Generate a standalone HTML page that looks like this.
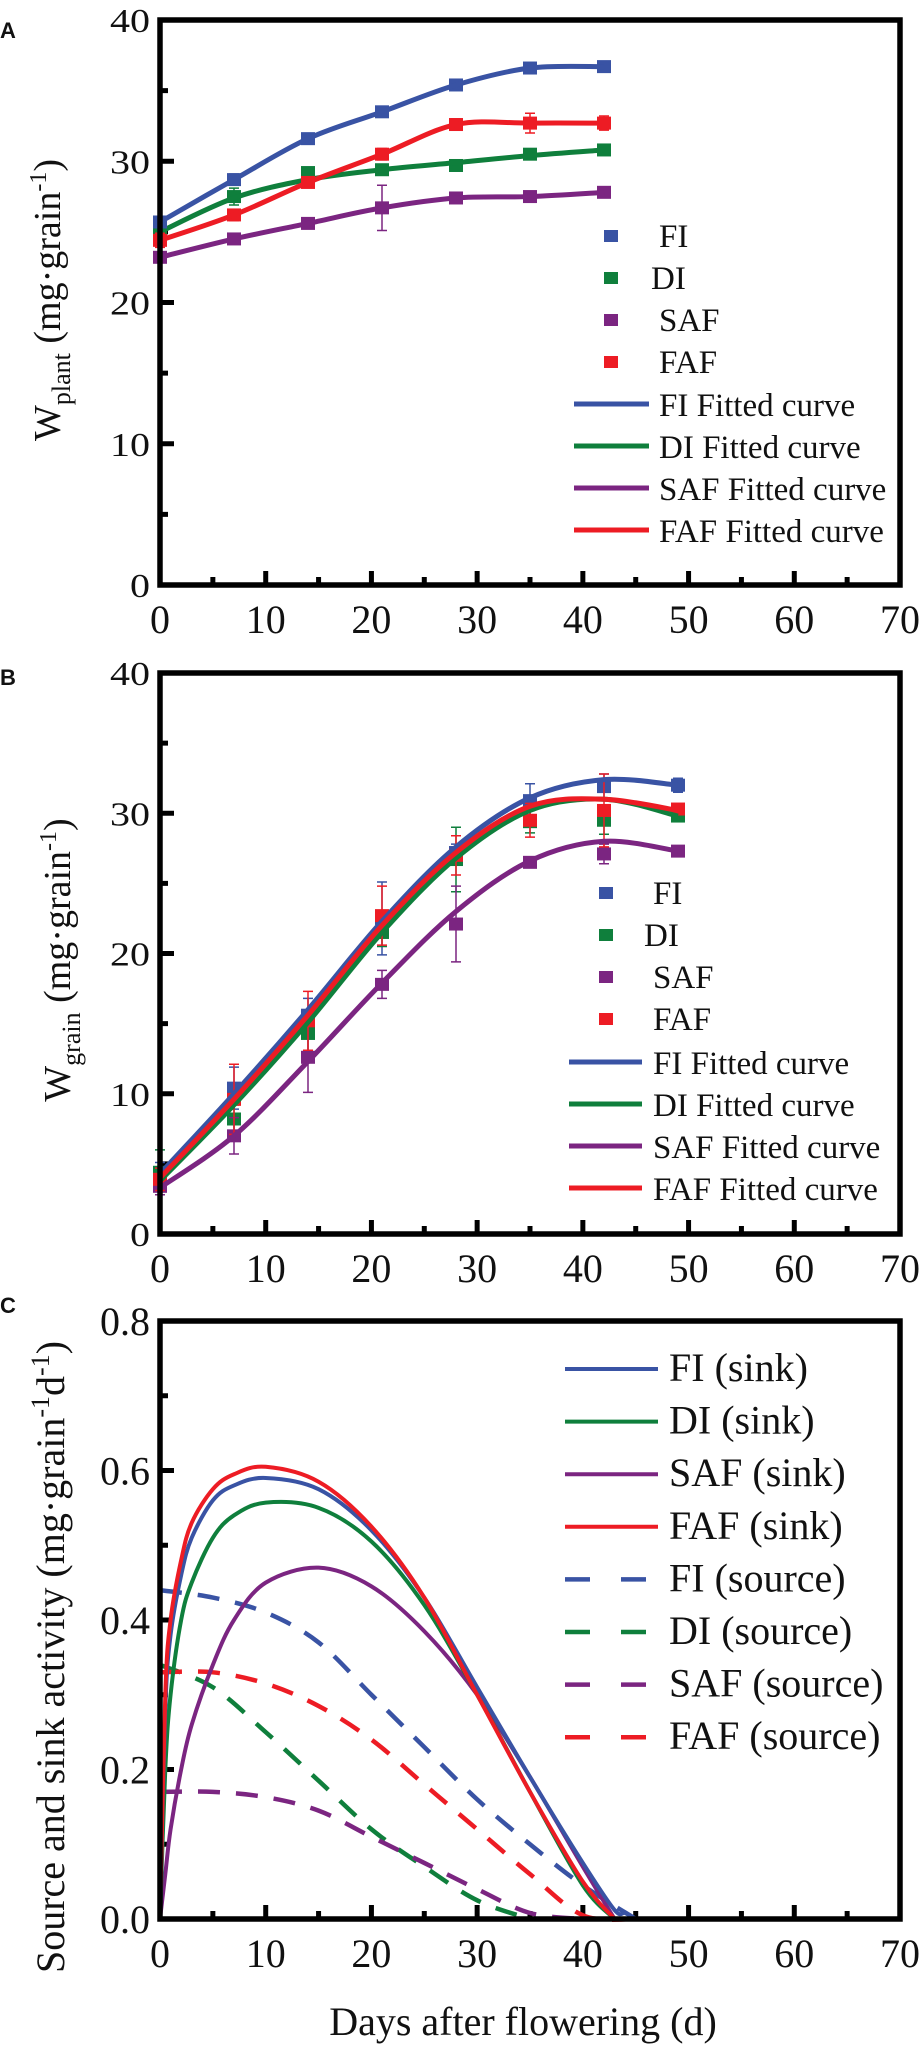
<!DOCTYPE html>
<html><head><meta charset="utf-8">
<style>
html,body{margin:0;padding:0;background:#fff;}
svg{display:block;}
text{font-family:"Liberation Serif",serif;fill:#111;}
.pl{font-family:"Liberation Sans",sans-serif;font-weight:bold;font-size:22px;}
</style></head>
<body>
<svg id="fig" width="924" height="2047" viewBox="0 0 924 2047" xmlns="http://www.w3.org/2000/svg">
<text class="pl" x="0" y="38">A</text>
<text class="pl" x="0" y="685">B</text>
<text class="pl" x="0" y="1313">C</text>
<text x="0" y="0" transform="translate(60,300) rotate(-90)" text-anchor="middle" font-size="38">W<tspan font-size="26" dy="10">plant</tspan><tspan dy="-10"> (mg·grain</tspan><tspan font-size="24" dy="-14">-1</tspan><tspan dy="14">)</tspan></text>
<text x="0" y="0" transform="translate(70,960) rotate(-90)" text-anchor="middle" font-size="38">W<tspan font-size="26" dy="10">grain</tspan><tspan dy="-10">  (mg·grain</tspan><tspan font-size="24" dy="-14">-1</tspan><tspan dy="14">)</tspan></text>
<text x="0" y="0" transform="translate(64,1657) rotate(-90)" text-anchor="middle" font-size="40">Source and sink activity (mg·grain<tspan font-size="26" dy="-15">-1</tspan><tspan dy="15">d</tspan><tspan font-size="26" dy="-15">-1</tspan><tspan dy="15">)</tspan></text>
<text x="523" y="2035" text-anchor="middle" font-size="40">Days after flowering (d)</text>
</svg>
<script>
// ---------- data ----------
const seriesNames = ["FI","DI","SAF","FAF"];
const colors = ["#3953a4","#0f7f3c","#7b2581","#ed1c24"];
const daysA = [0,7,14,21,28,35,42];
const plantFI = [25.7,28.7,31.6,33.5,35.4,36.6,36.7];
const plantDI = [25.0,27.5,29.2,29.4,29.7,30.5,30.8];
const plantSAF = [23.2,24.5,25.6,26.7,27.4,27.5,27.8];
const plantFAF = [24.4,26.2,28.5,30.5,32.6,32.7,32.7];
const plantErrFI = [0.3,0.4,0.3,0.3,0.3,0.3,0.3];
const plantErrDI = [0.3,0.6,0.3,0.3,0.3,0.3,0.3];
const plantErrSAF = [0.3,0.3,0.3,1.6,0.3,0.3,0.3];
const plantErrFAF = [0.5,0.4,0.3,0.4,0.4,0.7,0.5];
const plantFitDI = [25.0,27.4,28.7,29.4,29.9,30.4,30.8];

const daysB = [0,7,14,21,28,35,42,49];
const grainFI = [4.1,10.4,15.6,22.5,27.2,30.9,31.9,32.0];
const grainDI = [4.4,8.2,14.3,21.5,26.7,29.4,29.5,29.8];
const grainSAF = [3.4,7.0,12.6,17.8,22.1,26.5,27.1,27.3];
const grainFAF = [3.9,9.6,15.2,22.7,27.0,29.5,30.2,30.3];
const grainErrFI = [1.0,1.5,1.2,2.6,0.6,1.2,0.9,0.5];
const grainErrDI = [1.6,1.0,1.2,1.0,2.3,0.8,1.0,0.3];
const grainErrSAF = [0.6,1.3,2.5,1.0,2.7,0.3,0.7,0.3];
const grainErrFAF = [0.8,2.5,2.1,2.1,1.4,1.2,2.6,0.3];
const fitFI = [4.3,10.0,16.0,22.3,27.6,31.1,32.4,32.0];
const fitDI = [3.8,9.2,15.1,21.5,26.8,30.2,31.0,29.8];
const fitSAF = [3.3,7.0,12.3,17.9,23.0,26.6,28.0,27.3];
const fitFAF = [4.0,9.6,15.6,22.0,27.2,30.5,31.0,30.2];

const sinkDays = [0,0.5,1,2,3,5,7,10,15,20,25,30,35,40,43,44,45];
const sinkFI = [0,0.28,0.38,0.46,0.51,0.56,0.58,0.59,0.575,0.52,0.43,0.31,0.19,0.075,0.012,0.008,0];
const sinkDI = [0,0.20,0.30,0.40,0.45,0.51,0.54,0.557,0.55,0.505,0.42,0.30,0.17,0.045,0,0,0];
const sinkSAF = [0,0.06,0.12,0.20,0.26,0.34,0.40,0.45,0.47,0.445,0.385,0.30,0.19,0.07,0,0,0];
const sinkFAF = [0,0.30,0.40,0.48,0.53,0.575,0.595,0.605,0.585,0.525,0.43,0.30,0.17,0.05,0,0,0];
const srcDays = [0,5,10,15,20,25,30,35,40,45];
const srcFI = [0.44,0.43,0.41,0.37,0.30,0.23,0.16,0.10,0.045,0];
const srcDI = [0.34,0.31,0.25,0.185,0.12,0.07,0.025,0,0,0];
const srcSAF = [0.17,0.17,0.163,0.145,0.11,0.075,0.04,0.008,0,0];
const srcFAF = [0.33,0.33,0.315,0.285,0.24,0.18,0.12,0.06,0.005,0];
const xTicks = [0,10,20,30,40,50,60,70];
const yTicksAB = [0,10,20,30,40];
const yTicksC = ["0.0","0.2","0.4","0.6","0.8"];

// ---------- helpers ----------
const NS = "http://www.w3.org/2000/svg";
const svg = document.getElementById("fig");
function mk(tag, attrs, parent){
  const e = document.createElementNS(NS, tag);
  for (const k in attrs) e.setAttribute(k, attrs[k]);
  (parent||svg).appendChild(e);
  return e;
}
function spline(pts){
  if (pts.length<2) return "";
  let d = "M"+pts[0][0]+","+pts[0][1];
  for (let i=0;i<pts.length-1;i++){
    const p0=pts[i-1]||pts[i], p1=pts[i], p2=pts[i+1], p3=pts[i+2]||p2;
    const c1=[p1[0]+(p2[0]-p0[0])/6, p1[1]+(p2[1]-p0[1])/6];
    const c2=[p2[0]-(p3[0]-p1[0])/6, p2[1]-(p3[1]-p1[1])/6];
    d += " C"+c1[0]+","+c1[1]+" "+c2[0]+","+c2[1]+" "+p2[0]+","+p2[1];
  }
  return d;
}
function makePanel(top, bottom, ymax, yLabels, tickFont, scaleY, name){
  const L=160, R=900;
  const xs = d => L + d*(R-L)/70;
  const ys = v => bottom - v*(bottom-top)/ymax;
  const g = mk("g",{});
  
  
  for (let d=0; d<=70; d+=5){
    const len = d%10===0 ? 14 : 8;
    const t = mk("line",{x1:xs(d),x2:xs(d),y1:bottom,y2:bottom-len,stroke:"#000","stroke-width":5},g);
    
    
  }
  const nY = yLabels.length-1;
  for (let i=0;i<=nY*2;i++){
    const v = ymax*i/(nY*2);
    const len = i%2===0 ? 14 : 8;
    const t = mk("line",{x1:L,x2:L+len,y1:ys(v),y2:ys(v),stroke:"#000","stroke-width":5},g);
    
    
  }
  xTicks.forEach(d=>{
    const t = mk("text",{x:xs(d),y:bottom+48,"text-anchor":"middle","font-size":tickFont},g);
    t.textContent = d;
    
    
  });
  yLabels.forEach((lab,i)=>{
    const v = ymax*i/nY;
    const t = mk("text",{"text-anchor":"end","font-size":tickFont,transform:"translate("+(L-10)+","+(ys(v)+13*scaleY+1)+") scale(1,"+scaleY+")"},g);
    t.textContent = lab;
    
    
  });
  return {xs, ys, g, L, R, top, bottom};
}
function frame(p, name){
  const r = mk("rect",{x:p.L,y:p.top,width:p.R-p.L,height:p.bottom-p.top,fill:"none",stroke:"#000","stroke-width":5.5});
  
  
}
function curve(p, days, vals, color, width, dash, name){
  let pts=[];
  for (let i=0;i<days.length;i++){
    pts.push([p.xs(days[i]), p.ys(vals[i])]);
    if (vals[i]<=0 && i>0) break;
  }
  const a = {d:spline(pts),fill:"none",stroke:color,"stroke-width":width,"stroke-linejoin":"round"};
  if (dash) a["stroke-dasharray"]=dash;
  const e = mk("path",a);
  
  
}
function markers(p, days, vals, errs, color, name){
  for (let i=0;i<days.length;i++){
    const x=p.xs(days[i]), y=p.ys(vals[i]);
    const y1=p.ys(vals[i]+errs[i]), y2=p.ys(vals[i]-errs[i]);
    const eb = mk("path",{d:"M"+x+","+y1+"V"+y2+"M"+(x-5)+","+y1+"H"+(x+5)+"M"+(x-5)+","+y2+"H"+(x+5),stroke:color,"stroke-width":1.5,fill:"none"});
    
    
    const m = mk("rect",{x:x-7,y:y-6.5,width:14,height:13,fill:color});
    
    
  }
}
function legendMarker(x, y, color, label, tx, fs, name){
  const m = mk("rect",{x:x-7,y:y-6,width:14,height:12,fill:color});
  
  
  const t = mk("text",{x:tx,y:y+11,"font-size":fs});
  t.textContent = label;
  
  
}
function legendLine(x1, x2, y, color, width, dash, label, tx, fs, name){
  const a = {x1:x1,x2:x2,y1:y,y2:y,stroke:color,"stroke-width":width};
  if (dash) a["stroke-dasharray"]=dash;
  const l = mk("line",a);
  
  
  const t = mk("text",{x:tx,y:y+12,"font-size":fs});
  t.textContent = label;
  
  
}

// ---------- Panel A ----------
const pA = makePanel(20, 585, 40, yTicksAB, 40, 0.85, "panel-a");
const plantVals = [plantFI, plantDI, plantSAF, plantFAF];
const plantErrs = [plantErrFI, plantErrDI, plantErrSAF, plantErrFAF];
const plantFits = [plantFI, plantFitDI, plantSAF, plantFAF];
[2,1,3,0].forEach(i=>{
  markers(pA, daysA, plantVals[i], plantErrs[i], colors[i], "plant-"+seriesNames[i].toLowerCase());
  curve(pA, daysA, plantFits[i], colors[i], 5, null, "plant-fit-"+seriesNames[i].toLowerCase());
});
frame(pA, "plot-frame-a");
seriesNames.forEach((n,i)=>{
  legendMarker(611, 236+i*42, colors[i], n, n==="DI"?651:659, 33, "a-"+n.toLowerCase());
  legendLine(574, 649, 404+i*42, colors[i], 5, null, n+" Fitted curve", 659, 33, "a-"+n.toLowerCase()+"-fit");
});

// ---------- Panel B ----------
const pB = makePanel(673, 1234, 40, yTicksAB, 40, 0.85, "panel-b");
const grainVals = [grainFI, grainDI, grainSAF, grainFAF];
const grainErrs = [grainErrFI, grainErrDI, grainErrSAF, grainErrFAF];
const grainFits = [fitFI, fitDI, fitSAF, fitFAF];
[0,1,2,3].forEach(i=>{
  markers(pB, daysB, grainVals[i], grainErrs[i], colors[i], "grain-"+seriesNames[i].toLowerCase());
});
[2,0,1,3].forEach(i=>{
  curve(pB, daysB, grainFits[i], colors[i], 5, null, "grain-fit-"+seriesNames[i].toLowerCase());
});
frame(pB, "plot-frame-b");
seriesNames.forEach((n,i)=>{
  legendMarker(606, 893+i*42, colors[i], n, n==="DI"?644:653, 33, "b-"+n.toLowerCase());
  legendLine(569, 642, 1062+i*42, colors[i], 5, null, n+" Fitted curve", 653, 33, "b-"+n.toLowerCase()+"-fit");
});

// ---------- Panel C ----------
const pC = makePanel(1321, 1919, 0.8, yTicksC, 40, 1, "panel-c");
const sinkVals = [sinkFI, sinkDI, sinkSAF, sinkFAF];
const srcVals = [srcFI, srcDI, srcSAF, srcFAF];
[0,1,2,3].forEach(i=>{
  curve(pC, srcDays, srcVals[i], colors[i], 4.5, "22,16", "source-"+seriesNames[i].toLowerCase());
});
[2,1,0,3].forEach(i=>{
  curve(pC, sinkDays, sinkVals[i], colors[i], 4, null, "sink-"+seriesNames[i].toLowerCase());
});
frame(pC, "plot-frame-c");
seriesNames.forEach((n,i)=>{
  legendLine(565, 658, 1369+i*52.6, colors[i], 4, null, n+" (sink)", 669, 40, "c-"+n.toLowerCase()+"-sink");
  legendLine(565, 658, 1369+(i+4)*52.6, colors[i], 4.5, "25,31", n+" (source)", 669, 40, "c-"+n.toLowerCase()+"-source");
});
</script>
</body></html>
